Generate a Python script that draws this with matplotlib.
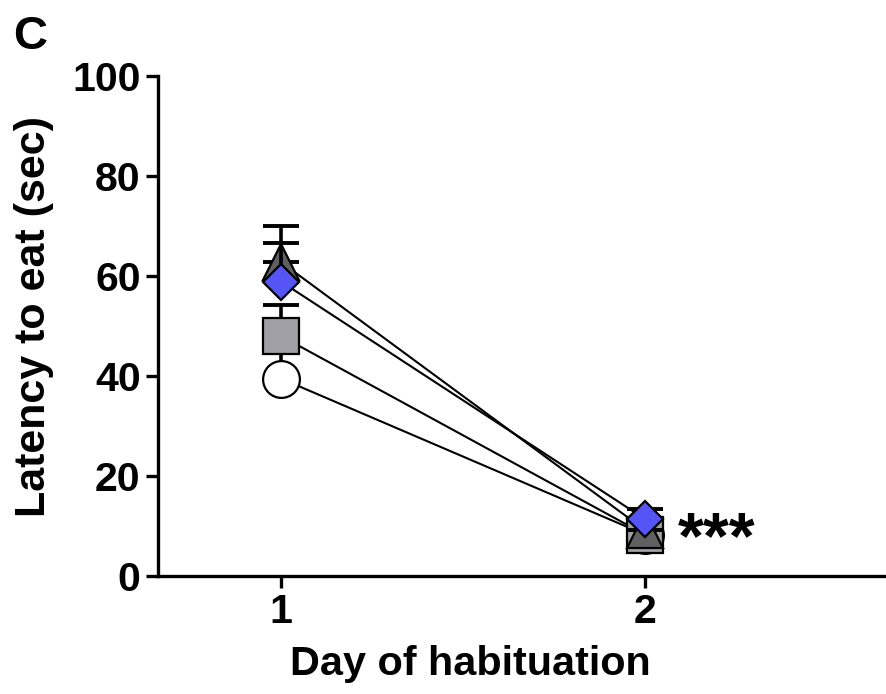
import numpy as np
import matplotlib.pyplot as plt

plt.rcParams["font.family"] = ["Liberation Sans", "DejaVu Sans"]
plt.rcParams["font.weight"] = "bold"

days = [1, 2]

circle_mean = [39.5, 8.3]
circle_sem = [6.0, 1.5]
square_mean = [48.0, 8.3]
square_sem = [6.3, 2.0]
triangle_mean = [62.8, 9.2]
triangle_sem = [7.2, 2.5]
diamond_mean = [58.9, 11.4]
diamond_sem = [7.7, 2.0]

yticks = [0, 20, 40, 60, 80, 100]

styles = [
    (circle_mean, circle_sem, "o", 26.5, "white"),
    (square_mean, square_sem, "s", 26.5, "#a0a0a6"),
    (triangle_mean, triangle_sem, "^", 26, "#606060"),
    (diamond_mean, diamond_sem, "D", 18.5, "#5555f5"),
]

fig = plt.figure(figsize=(8.87, 6.94), dpi=100)
ax = fig.add_axes([0.178, 0.170, 0.822, 0.7205])

z = 2
for mean, sem, marker, ms, color in styles:
    mean = np.array(mean)
    sem = np.array(sem)
    # upper-only error bars, caps hidden under the marker when short
    ax.errorbar(days, mean, yerr=[np.zeros_like(sem), sem], fmt="none",
                ecolor="black", elinewidth=2.6, capsize=13.3, capthick=2.8,
                zorder=z)
    ax.plot(days, mean, color="black", lw=1.5, zorder=z + 0.5)
    ax.plot(days, mean, linestyle="none", marker=marker, ms=ms,
            markerfacecolor=color, markeredgecolor="black",
            markeredgewidth=1.6, zorder=z + 1)
    z += 2

ax.text(2.09, 3.6, "***", fontsize=48, fontweight="bold",
        ha="left", va="baseline")

ax.set_xlim(0.662, 2.665)
ax.set_ylim(0, 100)
ax.set_xticks(days)
ax.set_xticklabels(["1", "2"])
ax.set_yticks(yticks)
ax.tick_params(axis="both", direction="out", width=2.4, length=8.5,
               labelsize=29.5, pad=4)
for lab in ax.get_xticklabels() + ax.get_yticklabels():
    lab.set_fontweight("bold")

for side in ["top", "right"]:
    ax.spines[side].set_visible(False)
for side in ["left", "bottom"]:
    ax.spines[side].set_linewidth(2.4)
ax.spines["bottom"].set_capstyle("projecting")

ax.set_ylabel("Latency to eat (sec)", fontsize=31, fontweight="bold")
ax.set_xlabel("Day of habituation", fontsize=29.8, fontweight="bold")
ax.yaxis.set_label_coords(-0.143, 0.52)
ax.xaxis.set_label_coords(0.429, -0.138)

fig.text(0.015, 0.978, "C", fontsize=34, fontweight="bold",
         ha="left", va="top")

fig.savefig("out.png", dpi=100)
